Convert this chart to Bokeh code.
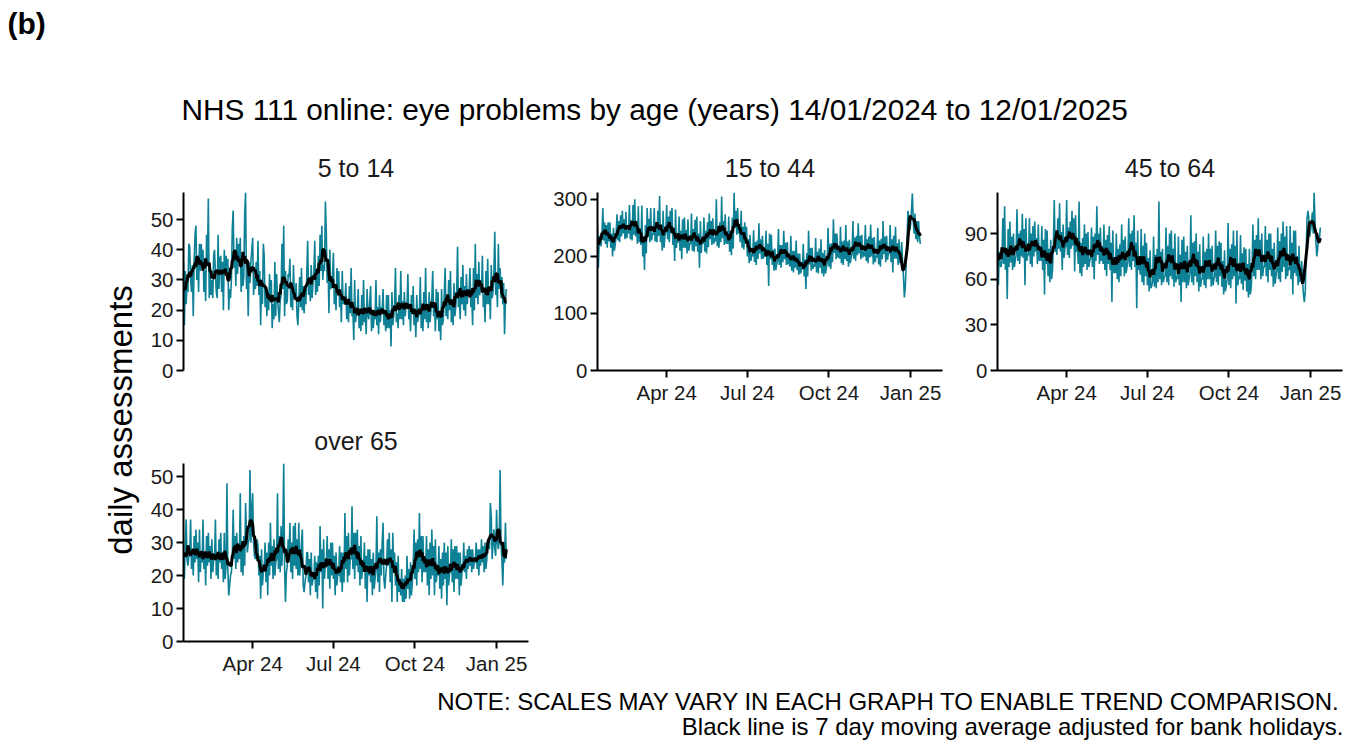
import numpy as np
import pandas as pd
from bokeh.plotting import figure
from bokeh.layouts import column, row
from bokeh.models import (Range1d, FixedTicker, DatetimeTickFormatter, Label,
                          ColumnDataSource, Spacer)
from bokeh.embed import file_html
from bokeh.resources import INLINE

FONT = "Liberation Sans"
TEAL = "#0E8196"
TXT = "#1a1a1a"

first_day = "2024-01-14"
axis_start = "2024-01-14"
axis_end = "2025-02-06"
tick_dates = ["2024-04-01", "2024-07-01", "2024-10-01", "2025-01-01"]
panel_names = ["5 to 14", "15 to 44", "45 to 64", "over 65"]
yticks_5_14 = [0, 10, 20, 30, 40, 50]
yticks_15_44 = [0, 100, 200, 300]
yticks_45_64 = [0, 30, 60, 90]
yticks_65 = [0, 10, 20, 30, 40, 50]

main_title = "NHS 111 online: eye problems by age (years) 14/01/2024 to 12/01/2025"
note_1 = "NOTE: SCALES MAY VARY IN EACH GRAPH TO ENABLE TREND COMPARISON."
note_2 = "Black line is 7 day moving average adjusted for bank holidays."
y_label = "daily assessments"

# daily assessments, one row per week (Sun..Sat), last value = 12/01/2025
age_5_14 = [
    36, 15, 33, 22, 29, 26, 42,
    41, 30, 26, 35, 18, 36, 45,
    48, 30, 38, 26, 42, 33, 42,
    35, 40, 26, 33, 23, 45, 36,
    57, 24, 33, 25, 30, 24, 38,
    40, 32, 26, 24, 45, 27, 37,
    38, 26, 36, 20, 40, 33, 38,
    32, 37, 20, 27, 24, 30, 47,
    53, 34, 40, 28, 44, 32, 42,
    36, 44, 26, 35, 28, 31, 52,
    59, 27, 33, 18, 36, 29, 36,
    40, 44, 25, 31, 27, 36, 28,
    43, 25, 33, 15, 30, 22, 42,
    38, 21, 27, 18, 26, 20, 32,
    24, 30, 14, 22, 17, 36, 18,
    32, 24, 20, 16, 23, 25, 42,
    27, 48, 18, 33, 22, 23, 32,
    31, 37, 21, 28, 20, 35, 24,
    24, 29, 18, 15, 23, 31, 21,
    34, 20, 28, 19, 27, 22, 32,
    43, 25, 31, 23, 35, 24, 29,
    33, 43, 25, 31, 26, 38, 28,
    45, 33, 48, 30, 35, 33, 56,
    46, 29, 35, 19, 40, 27, 28,
    30, 39, 22, 26, 20, 34, 25,
    33, 21, 26, 16, 33, 22, 24,
    22, 29, 17, 23, 16, 28, 19,
    34, 18, 20, 10, 30, 16, 19,
    20, 27, 14, 19, 13, 25, 15,
    30, 16, 20, 12, 27, 18, 17,
    23, 28, 13, 20, 14, 18, 17,
    30, 15, 21, 12, 25, 16, 21,
    19, 27, 15, 20, 13, 25, 14,
    25, 14, 20, 8, 26, 15, 18,
    22, 34, 16, 19, 14, 25, 17,
    33, 17, 23, 15, 26, 18, 22,
    21, 32, 17, 20, 13, 25, 19,
    28, 15, 20, 11, 25, 16, 18,
    19, 31, 14, 20, 13, 26, 17,
    34, 16, 21, 14, 26, 16, 20,
    24, 33, 18, 22, 13, 27, 17,
    26, 13, 18, 10, 27, 15, 17,
    25, 34, 18, 24, 17, 30, 20,
    33, 16, 22, 15, 29, 18, 21,
    26, 41, 21, 24, 17, 31, 22,
    35, 20, 28, 18, 32, 22, 27,
    26, 34, 21, 25, 15, 34, 20,
    42, 24, 32, 22, 36, 25, 29,
    27, 38, 21, 25, 16, 33, 22,
    37, 22, 28, 17, 35, 24, 26,
    33, 46, 25, 30, 21, 42, 27,
    34, 24, 31, 22, 29, 12, 23,
    27,
]

age_15_44 = [
    252, 180, 236, 222, 218, 238, 285,
    228, 260, 222, 255, 215, 260, 226,
    260, 215, 240, 200, 250, 210, 221,
    240, 274, 228, 262, 225, 272, 235,
    280, 240, 265, 230, 278, 232, 246,
    240, 290, 230, 262, 228, 290, 238,
    300, 235, 258, 222, 288, 225, 236,
    220, 289, 200, 230, 176, 255, 205,
    285, 235, 266, 225, 285, 228, 240,
    238, 285, 226, 260, 225, 280, 236,
    306, 225, 250, 210, 280, 215, 236,
    243, 290, 230, 270, 225, 280, 240,
    285, 220, 250, 192, 282, 215, 236,
    224, 270, 210, 245, 195, 265, 215,
    268, 215, 246, 205, 265, 210, 222,
    222, 275, 210, 248, 208, 264, 218,
    270, 208, 240, 180, 262, 206, 230,
    222, 268, 208, 245, 205, 260, 216,
    275, 230, 262, 220, 267, 222, 232,
    226, 300, 218, 250, 215, 260, 225,
    305, 232, 262, 220, 274, 222, 235,
    222, 270, 208, 240, 202, 268, 214,
    312, 250, 280, 238, 285, 240, 250,
    225, 280, 215, 252, 212, 260, 222,
    252, 200, 230, 188, 238, 192, 205,
    200, 246, 190, 225, 185, 228, 196,
    258, 205, 230, 195, 236, 196, 206,
    200, 245, 185, 222, 148, 240, 195,
    238, 185, 212, 175, 214, 176, 186,
    192, 248, 185, 220, 180, 220, 190,
    245, 195, 224, 185, 225, 186, 196,
    182, 236, 175, 210, 172, 210, 180,
    228, 176, 205, 168, 205, 170, 178,
    178, 222, 165, 195, 143, 206, 165,
    245, 186, 215, 175, 215, 178, 186,
    182, 232, 172, 208, 170, 214, 180,
    230, 170, 206, 165, 211, 170, 178,
    190, 250, 182, 222, 178, 223, 190,
    265, 206, 240, 195, 240, 198, 210,
    196, 252, 188, 226, 185, 228, 195,
    255, 192, 226, 182, 229, 188, 198,
    205, 262, 196, 233, 192, 236, 202,
    258, 205, 236, 195, 238, 198, 210,
    200, 255, 192, 230, 188, 235, 198,
    256, 200, 232, 186, 234, 190, 200,
    198, 250, 186, 228, 182, 231, 195,
    262, 204, 235, 190, 236, 194, 205,
    205, 255, 190, 230, 172, 236, 196,
    252, 196, 223, 185, 230, 188, 196,
    225, 190, 165, 128, 145, 185, 230,
    280, 268, 245, 255, 280, 310, 262,
    240, 275, 230, 262, 225, 262, 235,
    222,
]

age_45_64 = [
    95, 56, 78, 70, 68, 72, 100,
    70, 108, 66, 80, 47, 93, 68,
    98, 71, 88, 66, 90, 68, 72,
    76, 106, 72, 90, 70, 92, 75,
    103, 74, 93, 56, 100, 72, 76,
    76, 100, 70, 90, 68, 95, 75,
    98, 78, 87, 70, 96, 72, 80,
    72, 95, 66, 86, 50, 93, 70,
    92, 62, 80, 58, 86, 60, 66,
    82, 112, 78, 88, 76, 100, 80,
    110, 78, 91, 66, 96, 74, 80,
    82, 112, 76, 94, 74, 98, 80,
    105, 82, 100, 65, 102, 78, 84,
    70, 111, 64, 84, 62, 87, 68,
    96, 70, 90, 66, 91, 68, 72,
    74, 94, 68, 88, 60, 90, 72,
    108, 76, 90, 70, 94, 72, 78,
    70, 96, 66, 86, 62, 89, 70,
    95, 66, 84, 45, 92, 64, 72,
    64, 90, 60, 80, 58, 83, 62,
    96, 68, 86, 62, 88, 64, 68,
    72, 100, 68, 90, 66, 92, 72,
    102, 68, 84, 41, 92, 66, 72,
    63, 93, 58, 82, 56, 90, 62,
    84, 56, 74, 52, 79, 54, 56,
    58, 88, 55, 76, 54, 80, 58,
    111, 60, 78, 56, 80, 58, 61,
    62, 94, 58, 82, 56, 90, 62,
    92, 60, 80, 55, 90, 58, 62,
    60, 88, 56, 76, 45, 86, 58,
    88, 58, 78, 54, 82, 56, 60,
    64, 102, 58, 84, 56, 85, 62,
    90, 58, 78, 52, 83, 55, 60,
    60, 88, 56, 78, 54, 80, 60,
    90, 60, 80, 55, 82, 56, 60,
    62, 92, 58, 82, 56, 85, 62,
    84, 55, 72, 50, 79, 52, 56,
    60, 97, 56, 80, 54, 83, 60,
    92, 62, 82, 44, 92, 56, 62,
    60, 89, 57, 77, 53, 81, 59,
    80, 52, 70, 48, 80, 50, 54,
    66, 96, 62, 86, 60, 89, 66,
    100, 66, 86, 60, 90, 62, 68,
    68, 95, 62, 86, 58, 90, 66,
    90, 62, 80, 55, 84, 57, 62,
    66, 94, 60, 85, 58, 90, 65,
    98, 68, 88, 60, 95, 62, 68,
    66, 95, 60, 84, 50, 92, 64,
    92, 62, 75, 56, 82, 58, 64,
    72, 58, 50, 45, 52, 76, 100,
    105, 100, 88, 92, 96, 104, 90,
    117, 98, 85, 75, 80, 88, 86,
    94,
]

age_65_plus = [
    22, 19, 30, 37, 25, 23, 26,
    26, 37, 22, 28, 20, 32, 24,
    34, 25, 30, 18, 34, 21, 27,
    24, 37, 22, 27, 17, 32, 23,
    33, 24, 29, 19, 31, 21, 25,
    25, 37, 20, 26, 19, 31, 24,
    33, 22, 27, 18, 33, 19, 23,
    48, 22, 14, 17, 20, 21, 26,
    40, 25, 32, 22, 33, 24, 27,
    25, 45, 21, 30, 20, 32, 23,
    42, 33, 27, 30, 31, 52, 30,
    40, 45, 30, 26, 25, 27, 31,
    29, 20, 26, 13, 28, 17, 21,
    22, 30, 18, 27, 14, 30, 20,
    36, 23, 29, 19, 31, 20, 24,
    25, 45, 22, 32, 21, 35, 23,
    33, 54, 22, 12, 21, 23, 31,
    25, 36, 21, 30, 19, 35, 23,
    36, 22, 31, 20, 36, 20, 24,
    30, 34, 17, 15, 18, 20, 27,
    27, 18, 25, 14, 27, 17, 19,
    19, 26, 15, 24, 13, 26, 17,
    35, 21, 28, 10, 31, 19, 24,
    23, 32, 19, 28, 16, 30, 20,
    30, 19, 26, 14, 27, 17, 21,
    20, 29, 18, 27, 15, 27, 18,
    39, 22, 32, 18, 33, 20, 25,
    25, 41, 22, 33, 19, 33, 23,
    34, 21, 29, 17, 32, 19, 23,
    22, 30, 16, 26, 12, 28, 20,
    28, 18, 25, 14, 27, 16, 19,
    22, 38, 18, 27, 15, 28, 20,
    30, 36, 19, 16, 20, 23, 31,
    23, 33, 18, 28, 12, 33, 21,
    27, 17, 24, 12, 26, 15, 19,
    14, 22, 12, 19, 12, 20, 13,
    26, 16, 22, 13, 24, 14, 18,
    23, 34, 19, 30, 17, 31, 21,
    39, 22, 32, 18, 32, 21, 25,
    21, 32, 17, 28, 14, 30, 19,
    34, 20, 29, 14, 31, 18, 22,
    20, 29, 16, 25, 13, 27, 17,
    30, 19, 27, 11, 29, 17, 21,
    21, 31, 18, 28, 15, 29, 19,
    29, 19, 27, 14, 27, 17, 21,
    22, 30, 21, 26, 19, 28, 22,
    29, 23, 28, 21, 28, 22, 24,
    24, 30, 22, 28, 20, 28, 23,
    31, 24, 29, 21, 30, 22, 25,
    31, 30, 28, 42, 38, 25, 30,
    34, 28, 26, 40, 30, 28, 31,
    52, 30, 25, 17, 27, 24, 36,
    25,
]


def make_panel(values, name, yticks, show_x, left, right, top, bottom, standoff):
    dates = pd.date_range(first_day, periods=len(values), freq="D")
    s = pd.Series(values, dtype=float)
    ma = s.rolling(7, center=True, min_periods=1).mean()
    src = ColumnDataSource(dict(date=dates, v=s.values, ma=ma.values))
    p = figure(frame_width=345, frame_height=178, x_axis_type="datetime",
               x_range=Range1d(pd.Timestamp(axis_start), pd.Timestamp(axis_end)),
               y_range=Range1d(0, max(values)),
               output_backend="svg", toolbar_location=None,
               x_axis_location="below" if show_x else None,
               min_border_left=left, min_border_right=right,
               min_border_top=top, min_border_bottom=bottom,
               title=name)
    p.line("date", "v", source=src, line_color=TEAL, line_width=1.6)
    p.line("date", "ma", source=src, line_color="black", line_width=3)
    p.title.align = "center"
    p.title.text_font = FONT
    p.title.text_font_size = "25px"
    p.title.text_font_style = "normal"
    p.title.text_color = TXT
    p.title.standoff = standoff
    p.xgrid.visible = False
    p.ygrid.visible = False
    p.outline_line_color = None
    p.yaxis.ticker = FixedTicker(ticks=yticks)
    if show_x:
        p.xaxis.ticker = FixedTicker(ticks=[pd.Timestamp(d).value / 1e6 for d in tick_dates])
        p.xaxis.formatter = DatetimeTickFormatter(days="%b %y", months="%b %y", years="%b %y")
    for ax in p.axis:
        ax.axis_line_color = "black"
        ax.axis_line_width = 2
        ax.major_tick_line_color = "black"
        ax.major_tick_line_width = 2
        ax.major_tick_out = 7
        ax.major_tick_in = 0
        ax.minor_tick_line_color = None
        ax.major_label_text_font = FONT
        ax.major_label_text_font_size = "20.5px"
        ax.major_label_text_color = TXT
        ax.major_label_standoff = 3
    return p


def blank(w, h):
    f = figure(width=w, height=h, x_range=Range1d(0, w), y_range=Range1d(0, h),
               output_backend="svg", toolbar_location=None, title=None,
               x_axis_location=None, y_axis_location=None, min_border=0)
    f.xgrid.visible = False
    f.ygrid.visible = False
    f.outline_line_color = None
    return f


W = 1347
header = blank(W, 140)
header.add_layout(Label(x=7, y=117.3, text="(b)", text_font=FONT, text_font_size="30px",
                        text_font_style="bold", text_color="black", text_baseline="alphabetic"))
header.add_layout(Label(x=181, y=31.2, text=main_title, text_font=FONT, text_font_size="29.8px",
                        text_color="black", text_baseline="alphabetic"))

ylab = blank(142, 540)
ylab.add_layout(Label(x=120, y=260.5, text=y_label, angle=np.pi / 2, text_font=FONT,
                      text_font_size="33px", text_color="black", text_align="center",
                      text_baseline="middle"))

p1 = make_panel(age_5_14, panel_names[0], yticks_5_14, False, 41, 22, 52, 40, 21)
p2 = make_panel(age_15_44, panel_names[1], yticks_15_44, True, 45, 10, 52, 40, 21)
p3 = make_panel(age_45_64, panel_names[2], yticks_45_64, True, 45, 7, 52, 40, 21)
p4 = make_panel(age_65_plus, panel_names[3], yticks_65, True, 41, 22, 53, 39, 18)

footer = blank(W, 67)
footer.add_layout(Label(x=1340, y=46, text=note_1, text_font=FONT, text_font_size="24px",
                        text_color="black", text_align="right", text_baseline="alphabetic"))
footer.add_layout(Label(x=1343, y=21, text=note_2, text_font=FONT, text_font_size="24px",
                        text_color="black", text_align="right", text_baseline="alphabetic"))

layout = column(header,
                row(ylab, column(p1, p4), column(p2, Spacer(width=400, height=270)),
                    column(p3, Spacer(width=397, height=270))),
                footer)

open("out.html", "w").write(file_html(layout, INLINE))
